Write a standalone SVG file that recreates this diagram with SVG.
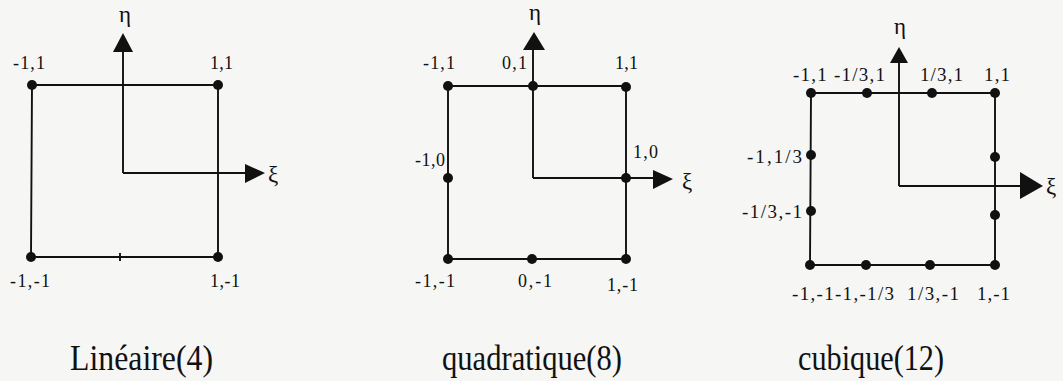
<svg xmlns="http://www.w3.org/2000/svg" width="1063" height="381" viewBox="0 0 1063 381">
<style>
.e{fill:none;stroke:#111;stroke-width:1.9}
.ah{fill:#111}
.d{fill:#111}
.l{font-family:"Liberation Serif","Times New Roman",serif;font-size:18px;fill:#111}
.l3{font-family:"Liberation Serif","Times New Roman",serif;font-size:19px;fill:#111}
.g{font-family:"Liberation Serif","Times New Roman",serif;font-size:23px;fill:#111}
.c{font-family:"Liberation Serif","Times New Roman",serif;font-size:36px;fill:#111}
</style>
<rect width="1063" height="381" fill="#f6f6f4"/>

<!-- Panel 1 -->
<g id="connectors-1">
<path class="e" d="M32 85 H218 V257 H31 Z"/>
<path class="e" d="M120 253 V261" stroke-width="1.2"/>
<path class="e" d="M123 173 V50 M123 173 H247"/>
<polygon class="ah" points="123,33 113,52 133,52"/>
<polygon class="ah" points="265,173 245,164 245,183"/>
</g>
<text class="g" x="125" y="22" text-anchor="middle">η</text>
<text class="g" x="268" y="182">ξ</text>
<g id="p1-n1"><circle class="d" cx="32" cy="85" r="5"/><text class="l" x="13" y="69" textLength="32" lengthAdjust="spacing">-1,1</text></g>
<g id="p1-n2"><circle class="d" cx="218" cy="85" r="5"/><text class="l" x="210" y="69" textLength="23" lengthAdjust="spacing">1,1</text></g>
<g id="p1-n3"><circle class="d" cx="31" cy="257" r="5"/><text class="l" x="10" y="287" textLength="40" lengthAdjust="spacing">-1,-1</text></g>
<g id="p1-n4"><circle class="d" cx="218" cy="257" r="5"/><text class="l" x="210" y="287" textLength="30" lengthAdjust="spacing">1,-1</text></g>
<text class="c" x="70" y="370" textLength="143" lengthAdjust="spacingAndGlyphs">Linéaire(4)</text>

<!-- Panel 2 -->
<g id="connectors-2">
<path class="e" d="M448 86 H626 V259 H448 Z"/>
<path class="e" d="M533 178 V50 M533 178 H655"/>
<polygon class="ah" points="534,32 523,50 545,50"/>
<polygon class="ah" points="673,179 653,170 653,189"/>
</g>
<text class="g" x="535" y="20" text-anchor="middle">η</text>
<text class="g" x="682" y="189">ξ</text>
<g id="p2-n1"><circle class="d" cx="448" cy="86" r="5"/><text class="l" x="423" y="69" textLength="32" lengthAdjust="spacing">-1,1</text></g>
<g id="p2-n2"><circle class="d" cx="533" cy="86" r="5"/><text class="l" x="502" y="69" textLength="25" lengthAdjust="spacing">0,1</text></g>
<g id="p2-n3"><circle class="d" cx="626" cy="87" r="5"/><text class="l" x="615" y="69" textLength="23" lengthAdjust="spacing">1,1</text></g>
<g id="p2-n4"><circle class="d" cx="448" cy="178" r="5"/><text class="l" x="415" y="166" textLength="30" lengthAdjust="spacing">-1,0</text></g>
<g id="p2-n5"><circle class="d" cx="626" cy="178" r="5"/><text class="l" x="633" y="158" textLength="25" lengthAdjust="spacing">1,0</text></g>
<g id="p2-n6"><circle class="d" cx="448" cy="259" r="5"/><text class="l" x="415" y="287" textLength="40" lengthAdjust="spacing">-1,-1</text></g>
<g id="p2-n7"><circle class="d" cx="532" cy="259" r="5"/><text class="l" x="518" y="287" textLength="34" lengthAdjust="spacing">0,-1</text></g>
<g id="p2-n8"><circle class="d" cx="626" cy="259" r="5"/><text class="l" x="607" y="291" textLength="31" lengthAdjust="spacing">1,-1</text></g>
<text class="c" x="442" y="370" textLength="180" lengthAdjust="spacingAndGlyphs">quadratique(8)</text>

<!-- Panel 3 -->
<g id="connectors-3">
<path class="e" d="M811 93 H995 V265 H810 Z"/>
<path class="e" d="M899 186 V62 M899 186 H1021"/>
<polygon class="ah" points="899,47 890,63 908,63"/>
<polygon class="ah" points="1043,186 1020,172 1020,199"/>
</g>
<text class="g" x="900" y="34" text-anchor="middle">η</text>
<text class="g" x="1046" y="194">ξ</text>
<g id="p3-n1"><circle class="d" cx="811" cy="93" r="5"/></g>
<g id="p3-n2"><circle class="d" cx="867" cy="93" r="5"/></g>
<text class="l3" x="793" y="81" textLength="92" lengthAdjust="spacing">-1,1 -1/3,1</text>
<g id="p3-n3"><circle class="d" cx="932" cy="93" r="5"/><text class="l3" x="920" y="81" textLength="43" lengthAdjust="spacing">1/3,1</text></g>
<g id="p3-n4"><circle class="d" cx="995" cy="93" r="5"/><text class="l3" x="984" y="81" textLength="26" lengthAdjust="spacing">1,1</text></g>
<g id="p3-n5"><circle class="d" cx="995" cy="157" r="5"/></g>
<g id="p3-n6"><circle class="d" cx="995" cy="215" r="5"/></g>
<g id="p3-n7"><circle class="d" cx="811" cy="155" r="5"/><text class="l3" x="747" y="163" textLength="55" lengthAdjust="spacing">-1,1/3</text></g>
<g id="p3-n8"><circle class="d" cx="811" cy="211" r="5"/><text class="l3" x="742" y="218" textLength="60" lengthAdjust="spacing">-1/3,-1</text></g>
<g id="p3-n9"><circle class="d" cx="810" cy="265" r="5"/></g>
<g id="p3-n10"><circle class="d" cx="866" cy="265" r="5"/></g>
<text class="l3" x="792" y="300" textLength="102" lengthAdjust="spacing">-1,-1-1,-1/3</text>
<g id="p3-n11"><circle class="d" cx="930" cy="265" r="5"/><text class="l3" x="907" y="300" textLength="52" lengthAdjust="spacing">1/3,-1</text></g>
<g id="p3-n12"><circle class="d" cx="995" cy="265" r="5"/><text class="l3" x="977" y="300" textLength="33" lengthAdjust="spacing">1,-1</text></g>
<text class="c" x="798" y="370" textLength="146" lengthAdjust="spacingAndGlyphs">cubique(12)</text>
</svg>
